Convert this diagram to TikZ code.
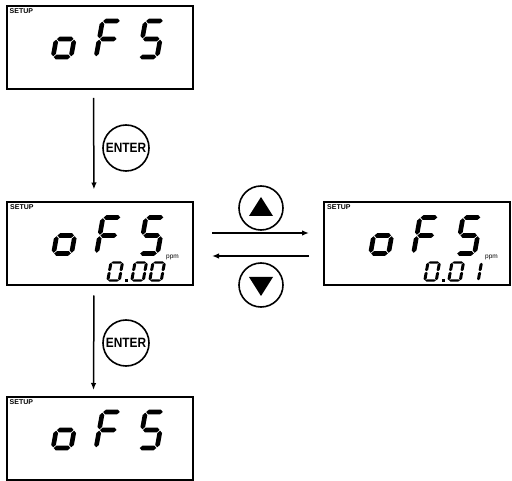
\documentclass[tikz,border=0pt]{standalone}
\usepackage{fontspec}
\setsansfont{Liberation Sans}
\usepackage{tikz}
\usetikzlibrary{arrows.meta}

% one segment of a seven segment digit, cell is 10 wide and 20 high
\newcommand{\lcdw}{1.3}
\newcommand{\lcdh}[3]{\fill (#1,#3) -- (#1+\lcdw,#3-\lcdw) -- (#2-\lcdw,#3-\lcdw) -- (#2,#3) -- (#2-\lcdw,#3+\lcdw) -- (#1+\lcdw,#3+\lcdw) -- cycle;}
\newcommand{\lcdv}[3]{\fill (#1,#2) -- (#1+\lcdw,#2+\lcdw) -- (#1+\lcdw,#3-\lcdw) -- (#1,#3) -- (#1-\lcdw,#3-\lcdw) -- (#1-\lcdw,#2+\lcdw) -- cycle;}
\newcommand{\lcdsega}{\lcdh{0.4}{9.6}{0}}
\newcommand{\lcdsegg}{\lcdh{0.4}{9.6}{10}}
\newcommand{\lcdsegd}{\lcdh{0.4}{9.6}{20}}
\newcommand{\lcdsegf}{\lcdv{0}{0.4}{9.6}}
\newcommand{\lcdsege}{\lcdv{0}{10.4}{19.6}}
\newcommand{\lcdsegb}{\lcdv{10}{0.4}{9.6}}
\newcommand{\lcdsegc}{\lcdv{10}{10.4}{19.6}}
% x, y, xscale, yscale, segments
\newcommand{\lcdchar}[5]{%
  \begin{scope}[shift={(#1,#2)}, xslant=0.18, xscale=#3, yscale=#4]
    \foreach \s in {#5} {\csname lcdseg\s\endcsname}
  \end{scope}}
% the word oFS on a display
\newcommand{\lcdoFS}[1]{%
  \begin{scope}[shift={(#1.north west)}]
    \node[tag] at (4,3) {SETUP};
    \lcdchar{54}{16}{1.8}{1.8}{c,d,e,g}
    \lcdchar{97}{16}{1.8}{1.8}{a,e,f,g}
    \lcdchar{140}{16}{1.8}{1.8}{a,f,g,c,d}
  \end{scope}}

\tikzset{
  lcd/.style = {draw, line width = 2pt, minimum width = 186pt, minimum height = 83pt, inner sep = 0},
  key/.style = {draw, circle, line width = 1.6pt, inner sep = 0},
  flow/.style = {-{Latex[length = 7pt, width = 5.5pt]}, line width = 1.5pt},
  tag/.style = {font = \fontsize{7}{7}\selectfont\sffamily\bfseries, inner sep = 0, anchor = north west},
  unit/.style = {font = \fontsize{6.5}{6.5}\selectfont\sffamily, inner sep = 0, anchor = base west},
}

\begin{document}
\begin{tikzpicture}[x = 1pt, y = -1pt]
  \useasboundingbox (0, 0) rectangle (512, 481);

  \node[lcd] (top) at (99.5, 47.5) {};
  \node[lcd] (set) at (100, 244) {};
  \node[lcd] (inc) at (417, 244) {};
  \node[lcd] (done) at (99.5, 438.5) {};

  \lcdoFS{top}
  \lcdoFS{set}
  \lcdoFS{inc}
  \lcdoFS{done}

  % value 0.00
  \begin{scope}[shift = {(set.north west)}]
    \node[unit] at (160, 57) {ppm};
    \lcdchar{105}{61}{1.15}{0.9}{a,b,c,d,e,f}
    \fill (118.5, 77.5) rectangle (121.5, 80.5);
    \lcdchar{129}{61}{1.15}{0.9}{a,b,c,d,e,f}
    \lcdchar{147}{61}{1.15}{0.9}{a,b,c,d,e,f}
  \end{scope}
  % value 0.01
  \begin{scope}[shift = {(inc.north west)}]
    \node[unit] at (162, 57) {ppm};
    \lcdchar{105}{61}{1.15}{0.9}{a,b,c,d,e,f}
    \fill (118.5, 77.5) rectangle (121.5, 80.5);
    \lcdchar{129}{61}{1.15}{0.9}{a,b,c,d,e,f}
    \lcdchar{147}{61}{1.15}{0.9}{b,c}
  \end{scope}

  \node[key, minimum size = 46pt] (enter1) at (126, 148) {\scalebox{0.88}[1]{\fontsize{13.5}{13.5}\selectfont\sffamily\bfseries ENTER}};
  \node[key, minimum size = 46pt] (enter2) at (126, 343) {\scalebox{0.88}[1]{\fontsize{13.5}{13.5}\selectfont\sffamily\bfseries ENTER}};
  \node[key, minimum size = 44pt] (up) at (261, 208) {};
  \node[key, minimum size = 44pt] (down) at (261, 285) {};
  \fill ([shift = {(-12, 8)}]up.center) -- ([shift = {(12, 8)}]up.center) -- ([shift = {(0, -11)}]up.center) -- cycle;
  \fill ([shift = {(-12, -8)}]down.center) -- ([shift = {(12, -8)}]down.center) -- ([shift = {(0, 11)}]down.center) -- cycle;

  \draw[flow, shorten <= 8pt, shorten >= 12pt] ([xshift = -6pt]top.south) -- ([xshift = -6pt]set.north);
  \draw[flow, shorten <= 9pt, shorten >= 6pt] ([xshift = -6pt]set.south) -- ([xshift = -6pt]done.north);
  \draw[flow, shorten <= 18pt, shorten >= 14pt] ([yshift = 11pt]set.east) -- ([yshift = 11pt]inc.west);
  \draw[flow, shorten <= 14pt, shorten >= 18pt] ([yshift = -12pt]inc.west) -- ([yshift = -12pt]set.east);
\end{tikzpicture}
\end{document}
